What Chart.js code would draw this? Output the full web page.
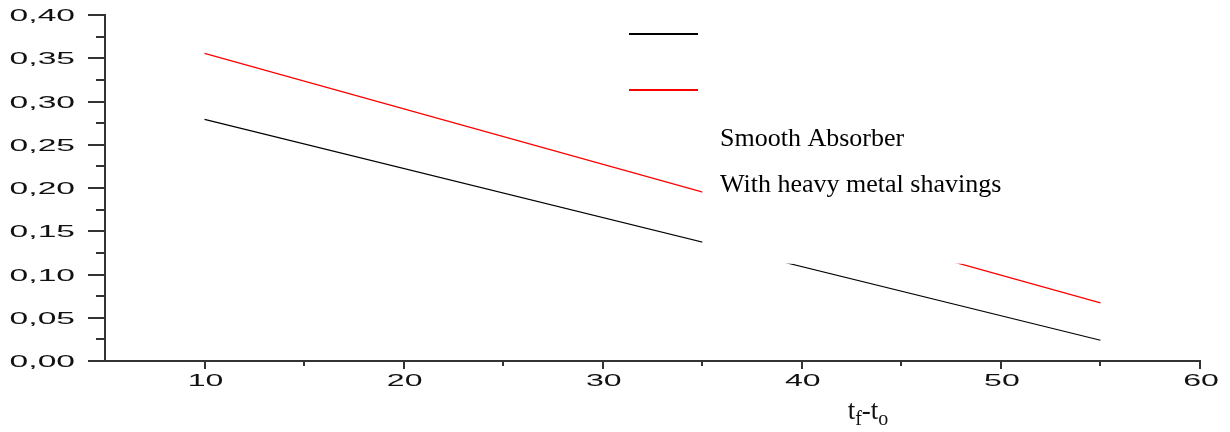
<!DOCTYPE html>
<html>
<head>
<meta charset="utf-8">
<script src="https://cdn.jsdelivr.net/npm/chart.js@4/dist/chart.umd.min.js"></script>
<style>
  body { margin: 0; background: #fff; }
  canvas { display: block; }
</style>
</head>
<body>
<canvas id="chart" width="1230" height="432"></canvas>
<script>
// values
let seriesNames = ['Smooth Absorber', 'With heavy metal shavings'];
let smoothX = [10, 55];
let smoothY = [0.2794, 0.024];
let shavingsX = [10, 55];
let shavingsY = [0.3556, 0.0672];

let xTickValues = [10, 20, 30, 40, 50, 60];
let xTickLabels = ['10', '20', '30', '40', '50', '60'];
let yTickValues = [0, 0.05, 0.10, 0.15, 0.20, 0.25, 0.30, 0.35, 0.40];
let yTickLabels = ['0,00', '0,05', '0,10', '0,15', '0,20', '0,25', '0,30', '0,35', '0,40'];

// legend area (opaque white box in the original plot), in data units
let legendBoxFromX = 35;
let legendBoxBelowY = 0.1125;

function toPoints(xs, ys) {
    return xs.map((x, i) => ({ x: x, y: ys[i] }));
}

function stretchedText(ctx, text, x, y, sx) {
    ctx.save();
    ctx.translate(x, y);
    ctx.scale(sx, 1);
    ctx.fillText(text, 0, 0);
    ctx.restore();
}

let axisDecor = {
    id: 'axisDecor',
    afterDatasetsDraw(chart) {
        let ctx = chart.ctx;
        let area = chart.chartArea;
        let xs = chart.scales.x;
        let ys = chart.scales.y;
        let left = xs.getPixelForValue(legendBoxFromX);
        let bottom = ys.getPixelForValue(legendBoxBelowY);
        ctx.save();
        ctx.fillStyle = '#fff';
        ctx.fillRect(left, area.top - 2, area.right - left + 2, bottom - area.top + 2);
        ctx.restore();
    },
    afterDraw(chart) {
        let ctx = chart.ctx;
        let area = chart.chartArea;
        let xs = chart.scales.x;
        let ys = chart.scales.y;
        ctx.save();
        ctx.strokeStyle = '#333';
        ctx.lineWidth = 2;
        // y ticks, major and minor
        for (let i = 0; i < yTickValues.length; i++) {
            let py = Math.round(ys.getPixelForValue(yTickValues[i]));
            ctx.beginPath();
            ctx.moveTo(area.left - 17, py);
            ctx.lineTo(area.left, py);
            ctx.stroke();
            if (i < yTickValues.length - 1) {
                let my = Math.round(ys.getPixelForValue((yTickValues[i] + yTickValues[i + 1]) / 2));
                ctx.beginPath();
                ctx.moveTo(area.left - 9, my);
                ctx.lineTo(area.left, my);
                ctx.stroke();
            }
        }
        // x ticks, major and minor
        for (let i = 0; i < xTickValues.length; i++) {
            let px = Math.round(xs.getPixelForValue(xTickValues[i]));
            ctx.beginPath();
            ctx.moveTo(px, area.bottom);
            ctx.lineTo(px, area.bottom + 8);
            ctx.stroke();
            let mx = Math.round(xs.getPixelForValue(xTickValues[i] - 5));
            if (xTickValues[i] - 5 > xs.min) {
                ctx.beginPath();
                ctx.moveTo(mx, area.bottom);
                ctx.lineTo(mx, area.bottom + 5);
                ctx.stroke();
            }
        }
        // tick labels (wide, stretched sans)
        ctx.fillStyle = '#111';
        ctx.font = '16px "Liberation Sans", Arial, sans-serif';
        ctx.textBaseline = 'alphabetic';
        ctx.textAlign = 'right';
        yTickValues.forEach((v, i) => {
            stretchedText(ctx, yTickLabels[i], area.left - 30, ys.getPixelForValue(v) + 6, 2.1);
        });
        ctx.textAlign = 'center';
        xTickValues.forEach((v, i) => {
            stretchedText(ctx, xTickLabels[i], xs.getPixelForValue(v) + 1, area.bottom + 25, 2.0);
        });

        // x axis title t_f - t_o
        ctx.textAlign = 'left';
        let big = '27px "Liberation Serif", "Times New Roman", serif';
        let small = '20px "Liberation Serif", "Times New Roman", serif';
        let parts = [['t', big, 0], ['f', small, 6], ['-t', big, 0], ['o', small, 6]];
        let total = 0;
        parts.forEach(p => { ctx.font = p[1]; total += ctx.measureText(p[0]).width; });
        let tx = 868 - total / 2;
        parts.forEach(p => {
            ctx.font = p[1];
            ctx.fillText(p[0], tx, 419 + p[2]);
            tx += ctx.measureText(p[0]).width;
        });

        // legend
        let colors = chart.data.datasets.map(d => d.borderColor);
        ctx.lineWidth = 2;
        ctx.strokeStyle = colors[0];
        ctx.beginPath(); ctx.moveTo(629, 34); ctx.lineTo(698, 34); ctx.stroke();
        ctx.strokeStyle = colors[1];
        ctx.beginPath(); ctx.moveTo(629, 90); ctx.lineTo(698, 90); ctx.stroke();
        ctx.fillStyle = '#000';
        ctx.font = '26px "Liberation Serif", "Times New Roman", serif';
        ctx.fillText(seriesNames[0], 720, 146);
        ctx.fillText(seriesNames[1], 720, 192);
        ctx.restore();
    }
};

new Chart(document.getElementById('chart'), {
    type: 'line',
    data: {
        datasets: [
            {
                label: seriesNames[0],
                data: toPoints(smoothX, smoothY),
                borderColor: '#000',
                borderWidth: 1.2,
                pointRadius: 0,
                fill: false
            },
            {
                label: seriesNames[1],
                data: toPoints(shavingsX, shavingsY),
                borderColor: '#ff0000',
                borderWidth: 1.2,
                pointRadius: 0,
                fill: false
            }
        ]
    },
    options: {
        responsive: false,
        animation: false,
        layout: { padding: { top: 15, right: 30, left: 0, bottom: 0 } },
        plugins: {
            legend: { display: false },
            tooltip: { enabled: false }
        },
        scales: {
            x: {
                type: 'linear',
                min: 5,
                max: 60,
                grid: { display: false, drawTicks: false },
                border: { display: true, color: '#333', width: 2 },
                ticks: { display: false },
                afterFit: s => { s.height = 71; }
            },
            y: {
                type: 'linear',
                min: 0,
                max: 0.4,
                grid: { display: false, drawTicks: false },
                border: { display: true, color: '#333', width: 2 },
                ticks: { display: false },
                afterFit: s => { s.width = 105; }
            }
        }
    },
    plugins: [axisDecor]
});
</script>
</body>
</html>
